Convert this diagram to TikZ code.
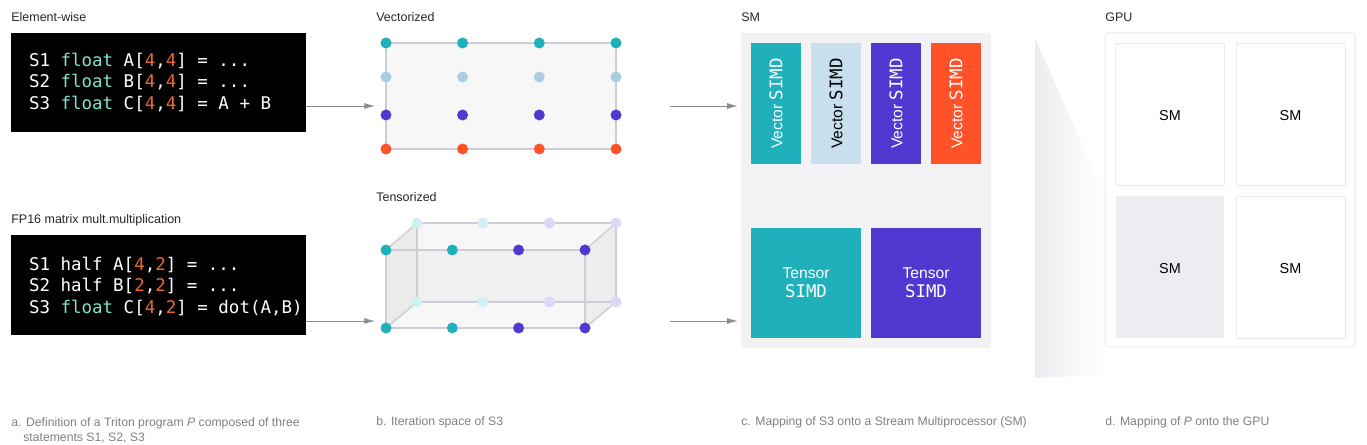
\documentclass[tikz,border=0pt]{standalone}
\usepackage{fontspec}
\setmainfont{Liberation Sans}
\setmonofont{DejaVu Sans Mono}
\usetikzlibrary{positioning,arrows.meta}
\definecolor{tealx}{HTML}{20B0BB}
\definecolor{palex}{HTML}{A8CFE0}
\definecolor{palebox}{HTML}{C8E0EE}
\definecolor{purplex}{HTML}{5038D0}
\definecolor{orangex}{HTML}{FF5228}
\definecolor{edgex}{HTML}{CDCDD6}
\definecolor{panelx}{HTML}{F2F2F5}
\definecolor{cellx}{HTML}{ECEDF0}
\definecolor{codeteal}{HTML}{7FE3D2}
\definecolor{codenum}{HTML}{E8692E}
\newcommand{\kw}[1]{\textcolor{codeteal}{#1}}
\newcommand{\nm}[1]{\textcolor{codenum}{#1}}
\newcommand{\simd}{{\ttfamily\fontsize{9.9pt}{10pt}\selectfont SIMD}}
\tikzset{
  title/.style={anchor=base west,inner sep=0pt,text=black!85,font=\fontsize{7.1pt}{8pt}\selectfont},
  caption/.style={anchor=base west,inner sep=0pt,align=left,text=black!50,font=\fontsize{6.95pt}{9.1pt}\selectfont},
  codebox/.style={fill=black,minimum width=5.9cm,minimum height=2cm,inner sep=0pt},
  codetext/.style={inner sep=0pt,align=left,text=white,font=\ttfamily\fontsize{9.95pt}{12.2pt}\selectfont},
  flow/.style={draw=black!45,line width=0.5pt,-{Latex[length=6pt,width=3.4pt]}},
  dot/.style={circle,minimum size=0.22cm,inner sep=0pt},
  vecbox/.style={minimum width=2.42cm,minimum height=1cm,inner sep=0pt,text=white,font=\fontsize{8.9pt}{10pt}\selectfont},
  tenbox/.style={minimum width=2.2cm,minimum height=2.2cm,inner sep=0pt,align=center,text=white,font=\fontsize{8.9pt}{10.8pt}\selectfont},
  smcell/.style={minimum width=2.18cm,minimum height=2.84cm,inner sep=0pt,text height=7pt,draw=black!8,line width=0.5pt,font=\fontsize{8.2pt}{10pt}\selectfont}
}
\begin{document}
\begin{tikzpicture}[x=0.02cm,y=-0.02cm]
\useasboundingbox (0,0) rectangle (1367,445);
% column a
\node[title] (titleA) at (11,22) {Element-wise};
\node[title] (titleB) at (11,224) {FP16 matrix mult.multiplication};
\node[codebox] (codeA) at (158.5,82.5) {};
\node[codebox] (codeB) at (158.5,285) {};
\node[codetext,right=0.36cm of codeA.west] (textA) {S1 \kw{float} A[\nm{4},\nm{4}] = ...\\S2 \kw{float} B[\nm{4},\nm{4}] = ...\\S3 \kw{float} C[\nm{4},\nm{4}] = A + B};
\node[codetext,right=0.36cm of codeB.west,yshift=-0.03cm] (textB) {S1 half A[\nm{4},\nm{2}] = ...\\S2 half B[\nm{2},\nm{2}] = ...\\S3 \kw{float} C[\nm{4},\nm{2}] = dot(A,B)};
\node[caption] (capA) at (11,442) {a. Definition of a Triton program \textit{P} composed of three\\\hspace*{0.24cm}statements S1, S2, S3};
% column b
\node[title] (titleC) at (376,22) {Vectorized};
\node[title] (titleD) at (376,202) {Tensorized};
\node[caption] (capB) at (376,426) {b. Iteration space of S3};
\coordinate (inA) at (375,106);
\coordinate (inB) at (375,321);
\draw[flow] (codeA.east |- inA) -- (inA);
\draw[flow] (codeB.east |- inB) -- (inB);
\draw[draw=edgex,fill=black!3,line width=0.8pt] (386,43) rectangle (616,149);
\node[dot,fill=tealx] (v11) at (386,43) {};
\node[dot,fill=tealx] (v12) at (462.6,43) {};
\node[dot,fill=tealx] (v13) at (539.3,43) {};
\node[dot,fill=tealx] (v14) at (616,43) {};
\node[dot,fill=palex] (v21) at (386,77) {};
\node[dot,fill=palex] (v22) at (462.6,77) {};
\node[dot,fill=palex] (v23) at (539.3,77) {};
\node[dot,fill=palex] (v24) at (616,77) {};
\node[dot,fill=purplex] (v31) at (386,115) {};
\node[dot,fill=purplex] (v32) at (462.6,115) {};
\node[dot,fill=purplex] (v33) at (539.3,115) {};
\node[dot,fill=purplex] (v34) at (616,115) {};
\node[dot,fill=orangex] (v41) at (386,149) {};
\node[dot,fill=orangex] (v42) at (462.6,149) {};
\node[dot,fill=orangex] (v43) at (539.3,149) {};
\node[dot,fill=orangex] (v44) at (616,149) {};
% cube
\fill[black!6] (417,223) rectangle (616,302);
\fill[black!3] (386,250) -- (417,223) -- (616,223) -- (585,250) -- cycle;
\fill[black!3] (386,328) -- (417,302) -- (616,302) -- (585,328) -- cycle;
\fill[black!8] (386,250) -- (417,223) -- (417,302) -- (386,328) -- cycle;
\fill[black!7] (585,250) -- (616,223) -- (616,302) -- (585,328) -- cycle;
\draw[draw=edgex,line width=0.8pt] (417,223) rectangle (616,302);
\draw[draw=edgex,line width=0.8pt] (386,250) rectangle (585,328);
\draw[draw=edgex,line width=0.8pt] (386,250) -- (417,223);
\draw[draw=edgex,line width=0.8pt] (585,250) -- (616,223);
\draw[draw=edgex,line width=0.8pt] (386,328) -- (417,302);
\draw[draw=edgex,line width=0.8pt] (585,328) -- (616,302);
\node[dot,fill=tealx!20] (t11) at (417,223) {};
\node[dot,fill=tealx!20] (t12) at (483,223) {};
\node[dot,fill=purplex!20] (t13) at (549.5,223) {};
\node[dot,fill=purplex!20] (t14) at (616,223) {};
\node[dot,fill=tealx!20] (t21) at (417,302) {};
\node[dot,fill=tealx!20] (t22) at (483,302) {};
\node[dot,fill=purplex!20] (t23) at (549.5,302) {};
\node[dot,fill=purplex!20] (t24) at (616,302) {};
\node[dot,fill=tealx] (t31) at (386,250) {};
\node[dot,fill=tealx] (t32) at (452.3,250) {};
\node[dot,fill=purplex] (t33) at (518.6,250) {};
\node[dot,fill=purplex] (t34) at (585,250) {};
\node[dot,fill=tealx] (t41) at (386,328) {};
\node[dot,fill=tealx] (t42) at (452.3,328) {};
\node[dot,fill=purplex] (t43) at (518.6,328) {};
\node[dot,fill=purplex] (t44) at (585,328) {};
% column c
\node[title] (titleE) at (741,22) {SM};
\node[caption] (capC) at (741,426) {c. Mapping of S3 onto a Stream Multiprocessor (SM)};
\node[fill=panelx,minimum width=5cm,minimum height=6.3cm,inner sep=0pt] (panel) at (866,190.5) {};
\coordinate (outA) at (670,106);
\coordinate (outB) at (670,321);
\draw[flow] (outA) -- ([xshift=-0.06cm]panel.west |- outA);
\draw[flow] (outB) -- ([xshift=-0.06cm]panel.west |- outB);
\node[vecbox,fill=tealx,rotate=90] (vecA) at (776,103.5) {Vector \simd};
\node[vecbox,fill=palebox,text=black,rotate=90] (vecB) at (836,103.5) {Vector \simd};
\node[vecbox,fill=purplex,rotate=90] (vecC) at (896,103.5) {Vector \simd};
\node[vecbox,fill=orangex,rotate=90] (vecD) at (956,103.5) {Vector \simd};
\node[tenbox,fill=tealx] (tenA) at (806,283) {Tensor\\\simd};
\node[tenbox,fill=purplex] (tenB) at (926,283) {Tensor\\\simd};
% column d
\shade[left color=cellx,right color=white,shading angle=90] (1035,38) -- (1105,195) -- (1105,375) -- (1035,378) -- cycle;
\node[title] (titleF) at (1105,22) {GPU};
\node[caption] (capD) at (1105,426) {d. Mapping of \textit{P} onto the GPU};
\node[draw=black!8,fill=white,rounded corners=1pt,line width=0.6pt,minimum width=5cm,minimum height=6.28cm,inner sep=0pt] (gpu) at (1230,190) {};
\node[smcell] (cellA) at (1170,114) {SM};
\node[smcell] (cellB) at (1290.5,114) {SM};
\node[smcell,fill=cellx,draw=none] (cellC) at (1170,267) {SM};
\node[smcell] (cellD) at (1290.5,267) {SM};
\end{tikzpicture}
\end{document}
